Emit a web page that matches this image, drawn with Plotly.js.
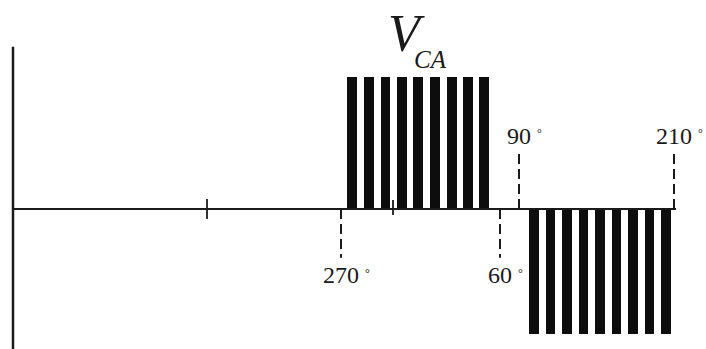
<!DOCTYPE html>
<html>
<head>
<meta charset="utf-8">
<script src="https://cdn.plot.ly/plotly-3.0.1.min.js"></script>
<style>
  html, body { margin: 0; padding: 0; background: #fff; }
  #chart { width: 706px; height: 349px; }
</style>
</head>
<body>
<div id="chart"></div>
<script>
// Positive PWM pulse train: start of each pulse on the time axis, pulse width, amplitude
const posStarts = [334, 351, 368, 384, 400, 417, 434, 450, 466];
const posWidths = [10, 10, 9, 10, 10, 10, 10, 10, 10];
const posLevel = 1;

// Negative PWM pulse train
const negStarts = [516, 533, 549, 566, 582, 599, 615, 632, 648];
const negWidths = [10, 9, 10, 9, 10, 9, 10, 9, 10];
const negLevel = -0.95;

// Angle markers along the time axis
const markerX = [328, 487, 506, 661];
const markerLabels = ['270', '60', '90', '210'];
const markerSide = [-1, -1, 1, 1];   // -1: drawn below the axis, 1: above

// Axis extents and small ticks
const axisEnd = 663;
const axisTop = 1.23;
const tickX = [194, 380];

const INK = '#1a1a1a';
const SERIF = 'Liberation Serif, Times New Roman, serif';

const traces = [];

// horizontal time axis
traces.push({
  type: 'scatter', mode: 'lines',
  x: [0, axisEnd], y: [0, 0],
  line: { color: INK, width: 2 }, hoverinfo: 'skip'
});
// vertical amplitude axis
traces.push({
  type: 'scatter', mode: 'lines',
  x: [0, 0], y: [axisTop, -1.2],
  line: { color: INK, width: 2.5 }, hoverinfo: 'skip'
});
// small ticks on the time axis
traces.push({
  type: 'scatter', mode: 'lines',
  x: [tickX[0], tickX[0], null, tickX[1], tickX[1]],
  y: [0.076, -0.076, null, 0.068, -0.045],
  line: { color: INK, width: 1.8 }, hoverinfo: 'skip'
});

// dashed angle markers
const dashX = [], dashY = [];
markerX.forEach((x, i) => {
  dashX.push(x, x, null);
  dashY.push(0, markerSide[i] > 0 ? 0.42 : -0.37, null);
});
traces.push({
  type: 'scatter', mode: 'lines',
  x: dashX, y: dashY,
  line: { color: INK, width: 2, dash: '10px,5px' }, hoverinfo: 'skip'
});

// pulse trains
traces.push({
  type: 'bar', x: posStarts, y: posStarts.map(() => posLevel),
  width: posWidths, offset: 0,
  marker: { color: '#0d0d0d', line: { width: 0 } }, hoverinfo: 'skip'
});
traces.push({
  type: 'bar', x: negStarts, y: negStarts.map(() => negLevel),
  width: negWidths, offset: 0,
  marker: { color: '#0d0d0d', line: { width: 0 } }, hoverinfo: 'skip'
});

const annotations = [];
markerX.forEach((x, i) => {
  const above = markerSide[i] > 0;
  // angle value, centred on its dashed marker
  annotations.push({
    x: x, y: 0, xref: 'x', yref: 'y',
    text: markerLabels[i],
    showarrow: false, xanchor: 'center', yanchor: 'middle',
    yshift: above ? 73 : -66,
    font: { family: SERIF, size: 24, color: INK }
  });
  // small degree sign after the number
  annotations.push({
    x: x, y: 0, xref: 'x', yref: 'y',
    text: '°',
    showarrow: false, xanchor: 'center', yanchor: 'middle',
    xshift: markerLabels[i].length * 6.3 + 8,
    yshift: above ? 76 : -64,
    font: { family: SERIF, size: 12, color: INK }
  });
});

// waveform name V_CA
annotations.push({
  x: 406 / 706, y: 1 - 33 / 349, xref: 'paper', yref: 'paper',
  text: '<i>V</i>', showarrow: false, xanchor: 'center', yanchor: 'middle',
  font: { family: SERIF, size: 52, color: INK }
});
annotations.push({
  x: 431 / 706, y: 1 - 60 / 349, xref: 'paper', yref: 'paper',
  text: '<i>CA</i>', showarrow: false, xanchor: 'center', yanchor: 'middle',
  font: { family: SERIF, size: 25, color: INK }
});

const layout = {
  width: 706, height: 349,
  margin: { l: 0, r: 0, t: 0, b: 0, pad: 0 },
  paper_bgcolor: '#fff', plot_bgcolor: '#fff',
  showlegend: false, barmode: 'overlay', bargap: 0,
  xaxis: { range: [-13, 693], visible: false, fixedrange: true },
  yaxis: { range: [-140 / 132, 209 / 132], visible: false, fixedrange: true },
  annotations: annotations
};

Plotly.newPlot('chart', traces, layout, { staticPlot: true, displayModeBar: false });
</script>
</body>
</html>
